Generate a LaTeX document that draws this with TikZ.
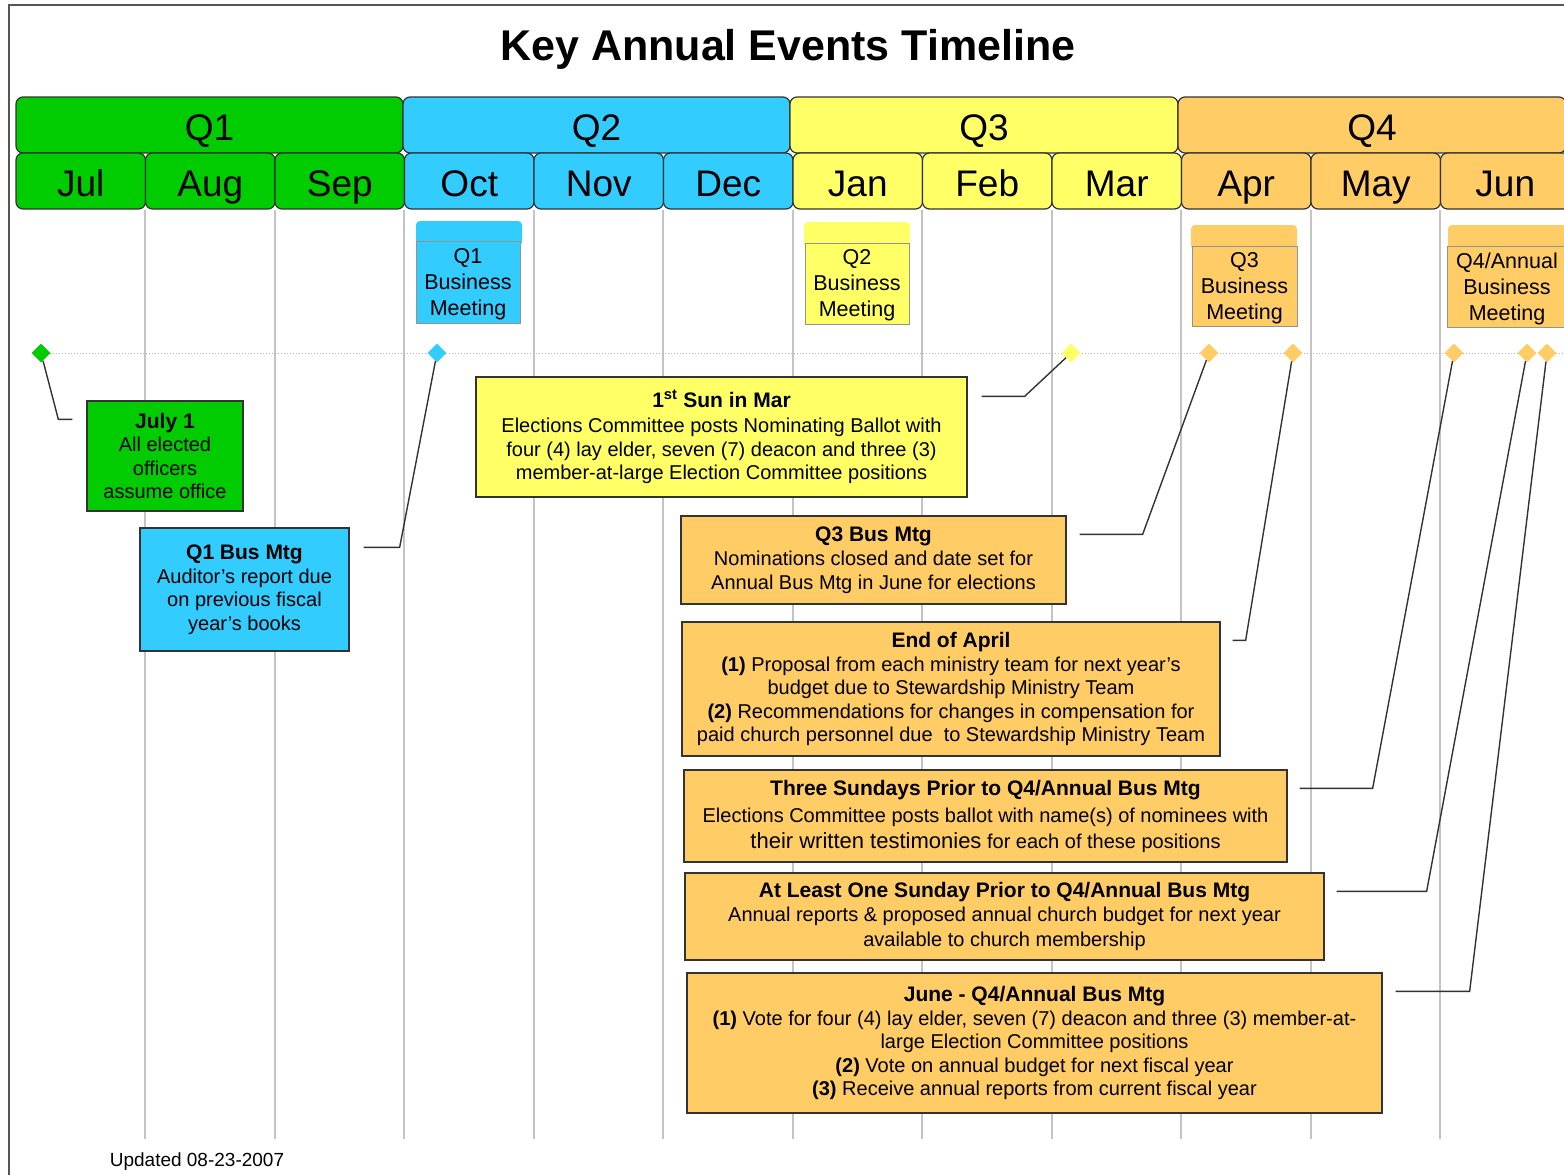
\documentclass[tikz,border=0pt]{standalone}
\usepackage{fontspec}
\setmainfont{Liberation Sans}
\usetikzlibrary{calc,shapes.geometric}
\definecolor{cgreen}{HTML}{00CC00}
\definecolor{cblue}{HTML}{33CCFF}
\definecolor{cyellow}{HTML}{FFFF66}
\definecolor{corange}{HTML}{FFCC66}
\definecolor{cedge}{HTML}{333333}
\definecolor{cgrid}{HTML}{C4C4C4}
\definecolor{cframe}{HTML}{555555}
\newcommand\evtitle[1]{{\fontsize{21}{24}\selectfont\bfseries #1}}
\begin{document}
\begin{tikzpicture}[x=1pt,y=-1pt,
  hdr/.style={draw=cedge, line width=1.2pt, rounded corners=7pt, inner sep=0pt,
              text height=30pt, text depth=0pt,
              font=\fontsize{37}{40}\selectfont},
  evbox/.style={draw=cedge, line width=1.3pt, inner sep=0pt, align=center,
              font=\fontsize{20}{23.5}\selectfont},
  bmbox/.style={draw=gray!85, line width=1pt, inner sep=0pt},
  bmtext/.style={inner sep=0pt, align=center, font=\fontsize{21.5}{26}\selectfont},
  dia/.style={diamond, inner sep=0pt, minimum width=19pt, minimum height=19pt},
  conn/.style={draw=cedge, line width=1.4pt},
  gridln/.style={draw=cgrid, line width=1.9pt}]
\useasboundingbox (0,0) rectangle (1564,1175);
\clip (0,0) rectangle (1564,1175);
\fill[white] (0,0) rectangle (1564,1175);

% frame
\draw[cframe, line width=2pt] (9,1176) -- (9,5) -- (1566,5);

% title
\node[font=\fontsize{43}{48}\selectfont\bfseries] (title) at (788,49) {Key Annual Events Timeline};

% quarters
\node[hdr, fill=cgreen, minimum width=387pt, minimum height=56pt] (q1) at (209.5,125) {Q1};
\node[hdr, fill=cblue, minimum width=387pt, minimum height=56pt] (q2) at (596.5,125) {Q2};
\node[hdr, fill=cyellow, minimum width=388pt, minimum height=56pt] (q3) at (984,125) {Q3};
\node[hdr, fill=corange, minimum width=388pt, minimum height=56pt] (q4) at (1372,125) {Q4};

% months
\foreach \i/\m/\c in {1/Jul/cgreen,2/Aug/cgreen,3/Sep/cgreen,4/Oct/cblue,5/Nov/cblue,6/Dec/cblue,
                      7/Jan/cyellow,8/Feb/cyellow,9/Mar/cyellow,10/Apr/corange,11/May/corange,12/Jun/corange}{
  \node[hdr, fill=\c, minimum width=129.5pt, minimum height=56pt, text height=31pt] (m\i) at ({16+129.5*(\i-0.5)},181) {\m};
}

% grid lines
\foreach \i in {1,...,11}{
  \draw[gridln] ($(m\i.south east)+(-1,0)$) -- ++(0,929);
}

% dotted time axis
\draw[gray!60, line width=1pt, dotted] (41,353) -- (1566,353);

% business meetings
\fill[cblue, rounded corners=4pt] (416,221) rectangle (522,246);
\node[bmbox, fill=cblue, minimum width=104pt, minimum height=82pt] (bm1) at (468,282) {};
\node[bmtext] (bm1t) at ($(bm1)+(0,2)$) {Q1\\Business\\Meeting};
\fill[cyellow, rounded corners=4pt] (804,222) rectangle (910,248);
\node[bmbox, fill=cyellow, minimum width=104pt, minimum height=81pt] (bm2) at (857,283.5) {};
\node[bmtext] (bm2t) at ($(bm2)+(0,2)$) {Q2\\Business\\Meeting};
\fill[corange, rounded corners=4pt] (1191,225) rectangle (1297,250);
\node[bmbox, fill=corange, minimum width=105pt, minimum height=80pt] (bm3) at (1244.5,286) {};
\node[bmtext] (bm3t) at ($(bm3)+(0,2)$) {Q3\\Business\\Meeting};
\fill[corange, rounded corners=4pt] (1448,225) rectangle (1572,250);
\node[bmbox, fill=corange, minimum width=120pt, minimum height=81pt] (bm4) at (1507,286.5) {};
\node[bmtext] (bm4t) at ($(bm4)+(0,2)$) {Q4/Annual\\Business\\Meeting};

% event boxes
\node[evbox, fill=cgreen, minimum width=156pt, minimum height=110pt] (ev1) at (165,456)
  {\evtitle{July 1}\\All elected\\officers\\assume office};
\node[evbox, fill=cblue, minimum width=209pt, minimum height=123pt] (ev2) at (244.5,589.5)
  {\evtitle{Q1 Bus Mtg}\\Auditor's report due\\on previous fiscal\\year's books};
\node[evbox, fill=cyellow, minimum width=491pt, minimum height=120pt] (ev3) at (721.5,437)
  {\evtitle{1\textsuperscript{st} Sun in Mar}\\[2pt]Elections Committee posts Nominating Ballot with\\four (4) lay elder, seven (7) deacon and three (3)\\member-at-large Election Committee positions};
\node[evbox, fill=corange, minimum width=385pt, minimum height=88pt] (ev4) at (873.5,560)
  {\evtitle{Q3 Bus Mtg}\\[1pt]Nominations closed and date set for\\Annual Bus Mtg in June for elections};
\node[evbox, fill=corange, minimum width=538pt, minimum height=134pt] (ev5) at (951,689)
  {\evtitle{End of April}\\\textbf{(1)} Proposal from each ministry team for next year's\\budget due to Stewardship Ministry Team\\\textbf{(2)} Recommendations for changes in compensation for\\paid church personnel due\ \ to Stewardship Ministry Team};
\node[evbox, fill=corange, minimum width=603pt, minimum height=92pt] (ev6) at (985.5,816)
  {\evtitle{Three Sundays Prior to Q4/Annual Bus Mtg}\\[4pt]Elections Committee posts ballot with name(s) of nominees with\\[2pt]{\fontsize{22}{25}\selectfont their written testimonies} for each of these positions};
\node[evbox, fill=corange, minimum width=639pt, minimum height=87pt] (ev7) at (1004.5,916.5)
  {\evtitle{At Least One Sunday Prior to Q4/Annual Bus Mtg}\\Annual reports \& proposed annual church budget for next year\\[2pt]available to church membership};
\node[evbox, fill=corange, minimum width=695pt, minimum height=140pt] (ev8) at (1034.5,1043)
  {\evtitle{June - Q4/Annual Bus Mtg}\\\textbf{(1)} Vote for four (4) lay elder, seven (7) deacon and three (3) member-at-\\large Election Committee positions\\\textbf{(2)} Vote on annual budget for next fiscal year\\\textbf{(3)} Receive annual reports from current fiscal year};

% diamonds
\node[dia, fill=cgreen] (d1) at (41,353) {};
\node[dia, fill=cblue] (d2) at (437,353) {};
\node[dia, fill=cyellow] (d3) at (1071,353) {};
\node[dia, fill=corange] (d4) at (1209,353) {};
\node[dia, fill=corange] (d5) at (1293,353) {};
\node[dia, fill=corange] (d6) at (1454,353) {};
\node[dia, fill=corange] (d7) at (1527,353) {};
\node[dia, fill=corange] (d8) at (1547,353) {};

% connectors
\draw[conn] ($(ev1.north west)+(-14,19)$) -- ++(-14,0) -- (d1);
\draw[conn] ($(ev2.north east)+(14,20)$) -- ++(36,0) -- (d2);
\draw[conn] ($(ev3.north east)+(14,20)$) -- ++(43,0) -- (d3);
\draw[conn] ($(ev4.north east)+(13,19)$) -- ++(63,0) -- (d4);
\draw[conn] ($(ev5.north east)+(12,19)$) -- ++(13,0) -- (d5);
\draw[conn] ($(ev6.north east)+(12,19)$) -- ++(73,0) -- (d6);
\draw[conn] ($(ev7.north east)+(12,19)$) -- ++(90,0) -- (d7);
\draw[conn] ($(ev8.north east)+(13,19)$) -- ++(74,0) -- (d8);

% footer
\node[font=\fontsize{19}{22}\selectfont] (upd) at (197,1162) {Updated 08-23-2007};
\end{tikzpicture}
\end{document}
